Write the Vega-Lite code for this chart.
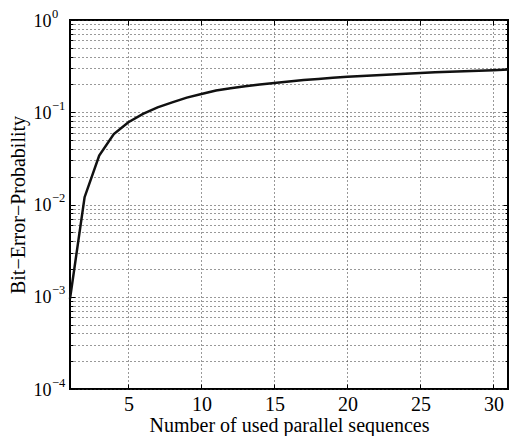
{
  "$schema": "https://vega.github.io/schema/vega-lite/v6.json",
  "width": 438,
  "height": 369,
  "autosize": {"type": "none"},
  "padding": {"left": 70, "top": 20, "right": 1, "bottom": 47},
  "background": "white",
  "config": {
    "view": {"stroke": "black", "strokeWidth": 2},
    "axis": {"labelFont": "Liberation Serif", "titleFont": "Liberation Serif", "labelColor": "black", "titleColor": "black", "titleFontWeight": "normal", "tickColor": "black", "tickWidth": 1}
  },
  "data": {"values": [
    {"n": 1, "p": 0.00095}, {"n": 2, "p": 0.012}, {"n": 3, "p": 0.034}, {"n": 4, "p": 0.058},
    {"n": 5, "p": 0.078}, {"n": 6, "p": 0.096}, {"n": 7, "p": 0.113}, {"n": 8, "p": 0.128},
    {"n": 9, "p": 0.144}, {"n": 10, "p": 0.158}, {"n": 11, "p": 0.172}, {"n": 12, "p": 0.182},
    {"n": 13, "p": 0.191}, {"n": 14, "p": 0.2}, {"n": 15, "p": 0.208}, {"n": 16, "p": 0.216},
    {"n": 17, "p": 0.223}, {"n": 18, "p": 0.23}, {"n": 19, "p": 0.236}, {"n": 20, "p": 0.242},
    {"n": 21, "p": 0.247}, {"n": 22, "p": 0.252}, {"n": 23, "p": 0.257}, {"n": 24, "p": 0.262},
    {"n": 25, "p": 0.267}, {"n": 26, "p": 0.271}, {"n": 27, "p": 0.275}, {"n": 28, "p": 0.278},
    {"n": 29, "p": 0.282}, {"n": 30, "p": 0.286}, {"n": 31, "p": 0.291}
  ]},
  "layer": [
    {
      "mark": {"type": "line", "color": "#111111", "strokeWidth": 2.5},
      "encoding": {
        "x": {"field": "n", "type": "quantitative",
          "scale": {"domain": [1, 31], "nice": false, "zero": false},
          "axis": {"orient": "bottom", "values": [5, 10, 15, 20, 25, 30], "grid": true, "gridDash": [1, 3], "gridColor": "#333333", "gridOpacity": 1, "ticks": false, "domain": false, "labelFontSize": 20, "labelPadding": 5, "title": "Number of used parallel sequences", "titleFontSize": 20, "titlePadding": 1}},
        "y": {"field": "p", "type": "quantitative",
          "scale": {"type": "log", "domain": [0.0001, 1], "nice": false},
          "axis": {"orient": "left", "values": [0.0001, 0.0002, 0.0003, 0.0004, 0.0005, 0.0006, 0.0007, 0.0008, 0.0009, 0.001, 0.002, 0.003, 0.004, 0.005, 0.006, 0.007, 0.008, 0.009, 0.01, 0.02, 0.03, 0.04, 0.05, 0.06, 0.07, 0.08, 0.09, 0.1, 0.2, 0.3, 0.4, 0.5, 0.6, 0.7, 0.8, 0.9, 1],
            "grid": true, "gridDash": [1, 3], "gridColor": "#333333", "gridOpacity": 1, "ticks": false, "domain": false,
            "labelExpr": "abs(log(datum.value)/LN10 - round(log(datum.value)/LN10)) < 0.000001 ? '10' : ''",
            "labelFontSize": 18, "labelPadding": 19, "labelBaseline": "middle", "labelAlign": "right", "labelOffset": 1,
            "title": "Bit−Error−Probability", "titleFontSize": 20, "titlePadding": 5}}
      }
    },
    {
      "mark": {"type": "point", "opacity": 0},
      "encoding": {
        "x": {"field": "n", "type": "quantitative", "axis": null},
        "y": {"field": "p", "type": "quantitative",
          "axis": {"orient": "left", "values": [0.0001, 0.001, 0.01, 0.1, 1], "grid": false, "ticks": false, "domain": false, "title": null,
            "labelExpr": "datum.value >= 1 ? '0' : '−' + format(-round(log(datum.value)/LN10), 'd')",
            "labelFontSize": 12.5, "labelAlign": "left", "labelPadding": 18.5, "labelOffset": -7, "labelBaseline": "middle"}}
      }
    },
    {
      "mark": {"type": "point", "opacity": 0},
      "encoding": {
        "x": {"field": "n", "type": "quantitative",
          "axis": {"orient": "bottom", "values": [5, 10, 15, 20, 25, 30], "grid": false, "labels": false, "domain": false, "title": null, "ticks": true, "tickSize": -5}},
        "y": {"field": "p", "type": "quantitative",
          "axis": {"orient": "left", "values": [0.0001, 0.0002, 0.0003, 0.0004, 0.0005, 0.0006, 0.0007, 0.0008, 0.0009, 0.001, 0.002, 0.003, 0.004, 0.005, 0.006, 0.007, 0.008, 0.009, 0.01, 0.02, 0.03, 0.04, 0.05, 0.06, 0.07, 0.08, 0.09, 0.1, 0.2, 0.3, 0.4, 0.5, 0.6, 0.7, 0.8, 0.9, 1],
            "grid": false, "labels": false, "domain": false, "title": null, "ticks": true,
            "tickSize": {"condition": {"test": "abs(log(datum.value)/LN10 - round(log(datum.value)/LN10)) < 0.000001", "value": -5}, "value": -3}}}
      }
    },
    {
      "mark": {"type": "point", "opacity": 0},
      "encoding": {
        "x": {"field": "n", "type": "quantitative",
          "axis": {"orient": "top", "values": [5, 10, 15, 20, 25, 30], "grid": false, "labels": false, "domain": false, "title": null, "ticks": true, "tickSize": -5}},
        "y": {"field": "p", "type": "quantitative",
          "axis": {"orient": "right", "values": [0.0001, 0.0002, 0.0003, 0.0004, 0.0005, 0.0006, 0.0007, 0.0008, 0.0009, 0.001, 0.002, 0.003, 0.004, 0.005, 0.006, 0.007, 0.008, 0.009, 0.01, 0.02, 0.03, 0.04, 0.05, 0.06, 0.07, 0.08, 0.09, 0.1, 0.2, 0.3, 0.4, 0.5, 0.6, 0.7, 0.8, 0.9, 1],
            "grid": false, "labels": false, "domain": false, "title": null, "ticks": true,
            "tickSize": {"condition": {"test": "abs(log(datum.value)/LN10 - round(log(datum.value)/LN10)) < 0.000001", "value": -5}, "value": -3}}}
      }
    }
  ],
  "resolve": {"axis": {"x": "independent", "y": "independent"}}
}
